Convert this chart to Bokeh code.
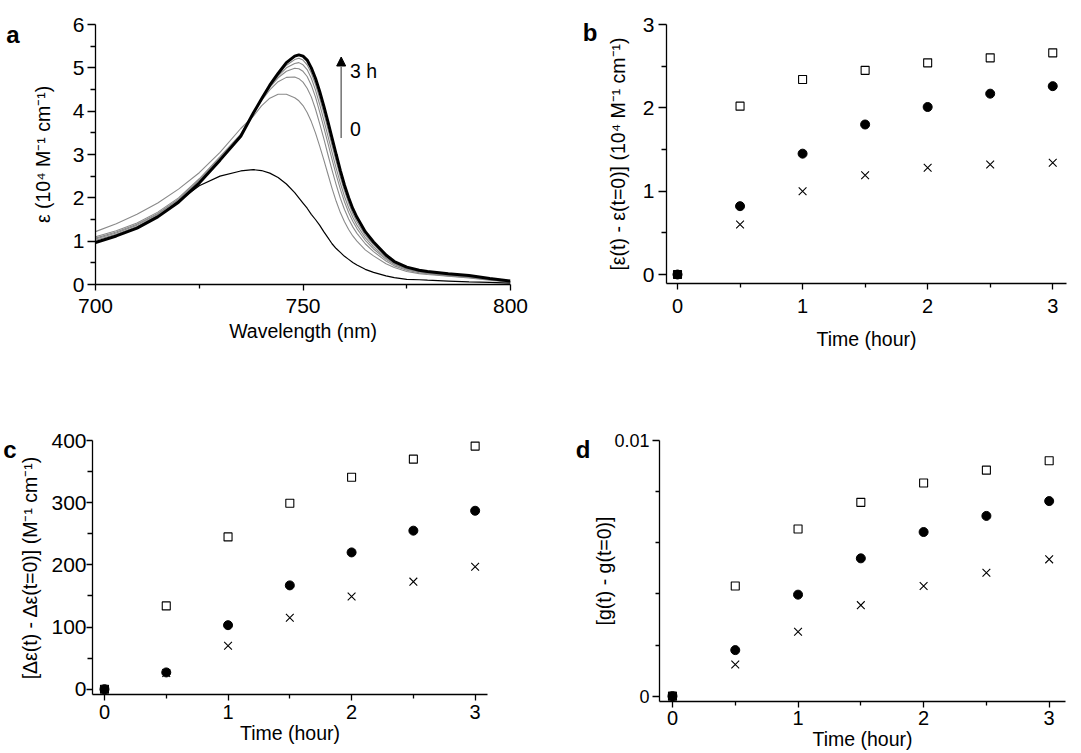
from bokeh.plotting import figure
from bokeh.layouts import row, column
from bokeh.models import (Range1d, FixedTicker, Label, Arrow, NormalHead, LinearAxis,
                          CustomJSTickFormatter)
from bokeh.embed import file_html
from bokeh.resources import INLINE

FONT = "Liberation Sans"

# ---------------- data: panel a (spectra) ----------------
wavelength = [700, 705, 710, 715, 720, 725, 730, 735, 738, 740, 742, 744, 746, 748,
              749, 750, 751, 752, 753, 754, 755, 756, 757, 758, 759, 760, 761, 762, 763,
              765, 767, 770, 772, 775, 778, 780, 785, 790, 795, 800]
eps_0h = [0.98, 1.12, 1.30, 1.56, 1.92, 2.28, 2.50, 2.62, 2.65, 2.63, 2.57, 2.47, 2.32, 2.12,
          2.00, 1.88, 1.76, 1.62, 1.50, 1.37, 1.22, 1.08, 0.94, 0.83, 0.74, 0.65, 0.58, 0.51, 0.45,
          0.35, 0.28, 0.20, 0.16, 0.12, 0.11, 0.10, 0.08, 0.06, 0.05, 0.03]
eps_0p5h = [1.22, 1.40, 1.62, 1.88, 2.20, 2.58, 3.05, 3.60, 3.88, 4.12, 4.30, 4.39, 4.39, 4.31,
            4.24, 4.13, 3.97, 3.76, 3.50, 3.20, 2.88, 2.55, 2.22, 1.92, 1.66, 1.45, 1.27, 1.12, 1.00,
            0.80, 0.66, 0.48, 0.39, 0.30, 0.25, 0.23, 0.19, 0.15, 0.10, 0.05]
eps_1h = [1.10, 1.24, 1.42, 1.67, 2.00, 2.44, 2.95, 3.47, 3.94, 4.24, 4.49, 4.68, 4.78, 4.79,
          4.75, 4.67, 4.53, 4.33, 4.05, 3.72, 3.37, 3.00, 2.64, 2.30, 1.99, 1.73, 1.51, 1.33, 1.18,
          0.94, 0.76, 0.54, 0.43, 0.33, 0.27, 0.25, 0.20, 0.16, 0.11, 0.06]
eps_1p5h = [1.07, 1.21, 1.39, 1.64, 1.97, 2.41, 2.93, 3.45, 3.95, 4.27, 4.55, 4.77, 4.92, 4.99,
            4.98, 4.92, 4.80, 4.60, 4.33, 3.99, 3.63, 3.26, 2.89, 2.53, 2.20, 1.91, 1.66, 1.46, 1.29,
            1.02, 0.82, 0.58, 0.46, 0.35, 0.29, 0.26, 0.21, 0.17, 0.12, 0.06]
eps_2h = [1.05, 1.19, 1.37, 1.62, 1.95, 2.39, 2.91, 3.44, 3.95, 4.28, 4.57, 4.81, 5.00, 5.10,
          5.12, 5.07, 4.96, 4.76, 4.49, 4.16, 3.80, 3.43, 3.05, 2.68, 2.34, 2.03, 1.77, 1.55, 1.37,
          1.08, 0.87, 0.61, 0.48, 0.36, 0.30, 0.27, 0.22, 0.18, 0.12, 0.07]
eps_2p5h = [1.02, 1.16, 1.34, 1.60, 1.93, 2.37, 2.89, 3.43, 3.95, 4.28, 4.59, 4.84, 5.06, 5.19,
            5.22, 5.18, 5.07, 4.88, 4.62, 4.31, 3.96, 3.59, 3.21, 2.84, 2.48, 2.16, 1.88, 1.64, 1.45,
            1.14, 0.92, 0.64, 0.50, 0.38, 0.31, 0.28, 0.23, 0.19, 0.13, 0.07]
eps_3h = [0.97, 1.12, 1.30, 1.56, 1.90, 2.34, 2.87, 3.42, 3.95, 4.28, 4.60, 4.87, 5.12, 5.27,
          5.30, 5.27, 5.18, 5.00, 4.76, 4.46, 4.12, 3.76, 3.38, 3.00, 2.63, 2.29, 2.00, 1.75, 1.55,
          1.22, 0.98, 0.68, 0.53, 0.40, 0.33, 0.30, 0.25, 0.21, 0.14, 0.08]

# ---------------- data: panels b, c, d ----------------
time_h = [0, 0.5, 1, 1.5, 2, 2.5, 3]
b_square = [0, 2.02, 2.34, 2.45, 2.54, 2.60, 2.66]
b_circle = [0, 0.82, 1.45, 1.80, 2.01, 2.17, 2.26]
b_cross = [0, 0.60, 1.00, 1.19, 1.28, 1.32, 1.34]
c_square = [0, 134, 245, 299, 341, 370, 391]
c_circle = [0, 27, 103, 167, 220, 255, 287]
c_cross = [0, 26, 70, 115, 149, 173, 197]
d_square = [0, 0.00431, 0.00654, 0.00758, 0.00834, 0.00884, 0.00921]
d_circle = [0, 0.00180, 0.00397, 0.00539, 0.00642, 0.00705, 0.00763]
d_cross = [0, 0.00124, 0.00252, 0.00356, 0.00431, 0.00483, 0.00535]

# tick labels
a_xticks = [700, 750, 800]
a_xminor = [725, 775]
a_yticks = [0, 1, 2, 3, 4, 5, 6]
a_yminor = [0.5, 1.5, 2.5, 3.5, 4.5, 5.5]
t_ticks = [0, 1, 2, 3]
t_minor = [0.5, 1.5, 2.5]
b_yticks = [0, 1, 2, 3]
b_yminor = [0.5, 1.5, 2.5]
c_yticks = [0, 100, 200, 300, 400]
c_yminor = [50, 150, 250, 350]
d_yticks = [0, 0.01]
d_yminor = [0.002, 0.004, 0.006, 0.008]


def make_fig(xr, yr, fw, fh, left, right, top, bottom):
    p = figure(x_range=Range1d(*xr), y_range=Range1d(*yr),
               frame_width=fw, frame_height=fh,
               min_border_left=left, min_border_right=right,
               min_border_top=top, min_border_bottom=bottom,
               output_backend="svg", toolbar_location=None)
    p.outline_line_color = None
    p.xgrid.visible = False
    p.ygrid.visible = False
    p.background_fill_color = "white"
    p.border_fill_color = "white"
    return p


def style_axes(p, xt, xm, yt, ym, xsize="20px", ysize="21px"):
    p.xaxis.ticker = FixedTicker(ticks=xt, minor_ticks=xm)
    p.yaxis.ticker = FixedTicker(ticks=yt, minor_ticks=ym)
    for ax in (p.xaxis[0], p.yaxis[0]):
        ax.axis_line_color = "black"
        ax.axis_line_width = 1.3
        ax.major_tick_line_color = "black"
        ax.major_tick_line_width = 1.3
        ax.minor_tick_line_color = "black"
        ax.minor_tick_line_width = 1.3
        ax.major_tick_in = 0
        ax.minor_tick_in = 0
        ax.major_label_text_font = FONT
        ax.major_label_text_color = "black"
        ax.axis_label_text_font = FONT
        ax.axis_label_text_font_style = "normal"
        ax.axis_label_text_color = "black"
    p.xaxis.major_label_text_font_size = xsize
    p.yaxis.major_label_text_font_size = ysize
    p.xaxis.axis_label_text_font_size = "19.5px"
    p.yaxis.axis_label_text_font_size = "19.5px"
    p.xaxis.major_tick_out = 6
    p.xaxis.minor_tick_out = 4
    p.yaxis.major_tick_out = 8
    p.yaxis.minor_tick_out = 5


def panel_letter(p, text, yval, standoff):
    # bold panel letter drawn as the single label of an extra, line-less left axis
    ax = LinearAxis(ticker=FixedTicker(ticks=[yval], minor_ticks=[]),
                    formatter=CustomJSTickFormatter(code="return '%s';" % text),
                    axis_line_color=None, major_tick_line_color=None,
                    minor_tick_line_color=None, major_tick_out=0, major_tick_in=0,
                    minor_tick_out=0, minor_tick_in=0,
                    major_label_text_font=FONT, major_label_text_font_size="24px",
                    major_label_text_font_style="bold", major_label_text_color="black",
                    major_label_standoff=standoff)
    p.add_layout(ax, "left")


def scatter_three(p, sq, ci, cr):
    p.scatter(time_h, sq, marker="square", size=8, fill_color="white",
              line_color="black", line_width=1.1)
    p.scatter(time_h, cr, marker="x", size=11, line_color="black", line_width=1.1)
    p.scatter(time_h, ci, marker="circle", size=9, fill_color="black",
              line_color="black")


# ---------------- panel a ----------------
pa = make_fig((700, 800), (0, 6), 415, 260, 95, 38, 23, 95)
style_axes(pa, a_xticks, a_xminor, a_yticks, a_yminor, "21px", "21px")
pa.xaxis.axis_label = "Wavelength (nm)"
pa.yaxis.axis_label = "ε (10⁴ M⁻¹ cm⁻¹)"
pa.xaxis.major_label_standoff = 8
pa.xaxis.axis_label_standoff = 4
pa.yaxis.major_label_standoff = 3
pa.yaxis.axis_label_standoff = 16
for series in (eps_0p5h, eps_1h, eps_1p5h, eps_2h, eps_2p5h):
    pa.line(wavelength, series, line_color="#8a8a8a", line_width=1.1)
pa.line(wavelength, eps_0h, line_color="black", line_width=1.2)
pa.line(wavelength, eps_3h, line_color="black", line_width=3)
pa.add_layout(Arrow(end=NormalHead(size=9, fill_color="black", line_color="black"),
                    x_start=759.2, y_start=3.38, x_end=759.2, y_end=5.25,
                    line_color="#7a7a7a", line_width=1.6))
pa.add_layout(Label(x=761.3, y=4.92, text="3 h", text_font=FONT, text_font_size="19.5px",
                    text_baseline="middle", text_color="black"))
pa.add_layout(Label(x=761.3, y=3.58, text="0", text_font=FONT, text_font_size="19.5px",
                    text_baseline="middle", text_color="black"))
panel_letter(pa, "a", 5.77, 9)

# ---------------- panel b ----------------
pb = make_fig((-0.088, 3.11), (-0.108, 3.0), 400, 259, 118, 12, 24, 95)
style_axes(pb, t_ticks, t_minor, b_yticks, b_yminor)
pb.xaxis.axis_label = "Time (hour)"
pb.yaxis.axis_label = "[ε(t) - ε(t=0)] (10⁴ M⁻¹ cm⁻¹)"
pb.xaxis.major_label_standoff = 9
pb.xaxis.axis_label_standoff = 12
pb.yaxis.major_label_standoff = 4
pb.yaxis.axis_label_standoff = 11
scatter_three(pb, b_square, b_circle, b_cross)
panel_letter(pb, "b", 2.90, 6)

# ---------------- panel c ----------------
pc = make_fig((-0.097, 3.1), (-8.5, 400), 395, 254, 92, 61, 62, 59)
style_axes(pc, t_ticks, t_minor, c_yticks, c_yminor)
pc.xaxis.axis_label = "Time (hour)"
pc.yaxis.axis_label = "[Δε(t) - Δε(t=0)] (M⁻¹ cm⁻¹)"
pc.xaxis.major_label_standoff = 4
pc.xaxis.axis_label_standoff = 0
pc.yaxis.major_tick_out = 6
pc.yaxis.major_label_standoff = 0
pc.yaxis.axis_label_standoff = 7
scatter_three(pc, c_square, c_circle, c_cross)
panel_letter(pc, "c", 386, 0)

# ---------------- panel d ----------------
pd_ = make_fig((-0.1034, 3.13), (-0.00021, 0.01), 406, 261, 111, 13, 58, 56)
style_axes(pd_, t_ticks, t_minor, d_yticks, d_yminor, "20px", "18px")
pd_.yaxis.major_label_overrides = {0: "0", 0.01: "0.01"}
pd_.xaxis.axis_label = "Time (hour)"
pd_.yaxis.axis_label = "[g(t) - g(t=0)]"
pd_.xaxis.major_label_standoff = 3
pd_.xaxis.axis_label_standoff = 0
pd_.yaxis.major_tick_out = 7
pd_.yaxis.minor_tick_out = 4
pd_.yaxis.major_label_standoff = 3
pd_.yaxis.axis_label_standoff = -4
scatter_three(pd_, d_square, d_circle, d_cross)
panel_letter(pd_, "d", 0.00964, 0)

layout = column(row(pa, pb), row(pc, pd_))
open("out.html", "w").write(file_html(layout, INLINE))
